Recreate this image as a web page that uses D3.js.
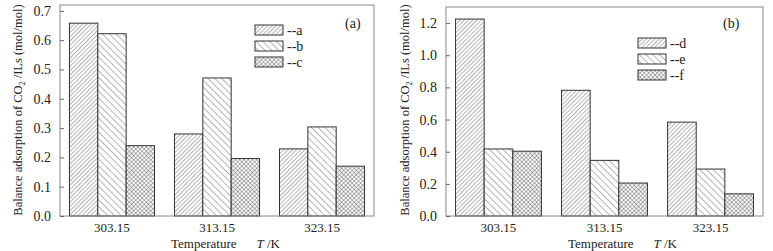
<!DOCTYPE html>
<html>
<head>
	<meta charset="utf-8">
	<title>CO2 balance adsorption</title>
	<script src="https://d3js.org/d3.v7.min.js"></script>
	<style>
		body { margin: 0; background: #fff; }
		text { font-family: 'Liberation Serif', 'Times New Roman', serif; fill: #222; }
	</style>
</head>
<body>
	<div class="chart"></div>

	<script type="text/javascript">

		// 温度分类
		var categories = ['303.15', '313.15', '323.15']

		// (a) 图数据
		var seriesA = [0.658, 0.280, 0.229]
		var seriesB = [0.622, 0.471, 0.304]
		var seriesC = [0.240, 0.196, 0.170]

		// (b) 图数据
		var seriesD = [1.225, 0.782, 0.584]
		var seriesE = [0.417, 0.346, 0.292]
		var seriesF = [0.403, 0.205, 0.138]

		var namesLeft = ['a', 'b', 'c']
		var namesRight = ['d', 'e', 'f']

		var ticksLeft = [0, 0.1, 0.2, 0.3, 0.4, 0.5, 0.6, 0.7]
		var ticksRight = [0, 0.2, 0.4, 0.6, 0.8, 1.0, 1.2]

		var width = 773
		var height = 251

		var svg = d3
			.select('.chart')
			.append('svg')
			.attr('width', width)
			.attr('height', height)

		/**
		 * 填充图案：斜线 / 反斜线 / 网格
		 */
		var defs = svg.append('defs')

		function hatch(id, size, angles) {
			var p = defs.append('pattern')
				.attr('id', id)
				.attr('patternUnits', 'userSpaceOnUse')
				.attr('width', size)
				.attr('height', size)
				.attr('patternTransform', `rotate(${angles[0]})`)
			p.append('rect').attr('width', size).attr('height', size).attr('fill', '#fff')
			p.append('line')
				.attr('x1', 0).attr('y1', 0).attr('x2', 0).attr('y2', size)
				.attr('stroke', '#444').attr('stroke-width', 0.8)
			if (angles.length > 1) {
				p.append('line')
					.attr('x1', 0).attr('y1', 0).attr('x2', size).attr('y2', 0)
					.attr('stroke', '#444').attr('stroke-width', 0.8)
			}
		}
		hatch('pat0', 3.0, [45])
		hatch('pat1', 4.8, [-45])
		hatch('pat2', 3.0, [45, 1])

		/**
		 * 绘制一个面板
		 */
		function drawPanel(cfg) {
			var g = svg.append('g')

			var x0 = d3.scaleBand()
				.domain(categories)
				.range([cfg.left, cfg.right])
				.paddingInner(0.19)
				.paddingOuter(0.09)

			var x1 = d3.scaleBand()
				.domain(d3.range(cfg.series.length))
				.range([0, x0.bandwidth()])

			var y = d3.scaleLinear()
				.domain([0, cfg.yMax])
				.range([cfg.bottom, cfg.top])

			// 柱子
			cfg.series.forEach(function(values, si) {
				g.append('g')
					.selectAll('rect')
					.data(values)
					.enter()
					.append('rect')
					.attr('x', (d, i) => x0(categories[i]) + x1(si))
					.attr('y', (d) => y(d))
					.attr('width', x1.bandwidth())
					.attr('height', (d) => y(0) - y(d))
					.attr('fill', `url(#pat${si})`)
					.attr('stroke', '#333')
					.attr('stroke-width', 1)
			})

			// 边框
			g.append('rect')
				.attr('x', cfg.left)
				.attr('y', cfg.top)
				.attr('width', cfg.right - cfg.left)
				.attr('height', cfg.bottom - cfg.top)
				.attr('fill', 'none')
				.attr('stroke', '#888')
				.attr('stroke-width', 1)

			// y 轴（刻度朝内）
			var yAxis = g.append('g')
				.attr('transform', `translate(${cfg.left},0)`)
				.call(d3.axisLeft(y).tickValues(cfg.ticks).tickFormat(d3.format('.1f'))
					.tickSizeInner(-4).tickSizeOuter(0).tickPadding(9))
			yAxis.select('.domain').remove()
			yAxis.selectAll('line').attr('stroke', '#666')
			yAxis.selectAll('text').style('font-size', '14px').attr('fill', '#222')
				.style('font-family', "'Liberation Serif', serif")

			// x 轴（无刻度线）
			var xAxis = g.append('g')
				.attr('transform', `translate(0,${cfg.bottom})`)
				.call(d3.axisBottom(x0).tickSize(0).tickPadding(7))
			xAxis.select('.domain').remove()
			xAxis.selectAll('text').style('font-size', '13px').attr('fill', '#222')
				.style('font-family', "'Liberation Serif', serif")

			// x 轴标题
			var xt = g.append('text')
				.attr('x', cfg.xTitleX)
				.attr('y', 247.5)
				.style('font-size', '13px')
			xt.append('tspan').text('Temperature')
			xt.append('tspan').attr('dx', 20).style('font-style', 'italic').text('T')
			xt.append('tspan').text(' /K')

			// y 轴标题
			var yt = g.append('text')
				.attr('transform', `translate(${cfg.yTitleX},110) rotate(-90)`)
				.attr('text-anchor', 'middle')
				.style('font-size', '12.5px')
			yt.append('tspan').text('Balance adsorption of CO')
			yt.append('tspan').attr('dy', 3).style('font-size', '8px').text('2')
			yt.append('tspan').attr('dy', -3).text(' /ILs (mol/mol)')

			// 面板标记
			g.append('text')
				.attr('x', cfg.tagX)
				.attr('y', 28)
				.style('font-size', '14px')
				.text(cfg.tag)

			// 图例
			var legend = g.append('g')
				.selectAll('g')
				.data(cfg.names)
				.enter()
				.append('g')
				.attr('transform', (d, i) => `translate(${cfg.legendX},${cfg.legendY + i * 16})`)
			legend.append('rect')
				.attr('width', 28)
				.attr('height', 10)
				.attr('fill', (d, i) => `url(#pat${i})`)
				.attr('stroke', '#333')
			legend.append('text')
				.attr('x', 32)
				.attr('y', 9.5)
				.style('font-size', '14px')
				.text((d) => '--' + d)
		}

		drawPanel({
			series: [seriesA, seriesB, seriesC],
			names: namesLeft,
			ticks: ticksLeft,
			yMax: 0.72,
			left: 60, right: 374, top: 5, bottom: 216,
			xTitleX: 171, yTitleX: 22,
			tag: '(a)', tagX: 345,
			legendX: 255, legendY: 25
		})

		drawPanel({
			series: [seriesD, seriesE, seriesF],
			names: namesRight,
			ticks: ticksRight,
			yMax: 1.3,
			left: 446, right: 763, top: 7, bottom: 216,
			xTitleX: 568, yTitleX: 409,
			tag: '(b)', tagX: 723,
			legendX: 638, legendY: 38
		})

	</script>
</body>
</html>
